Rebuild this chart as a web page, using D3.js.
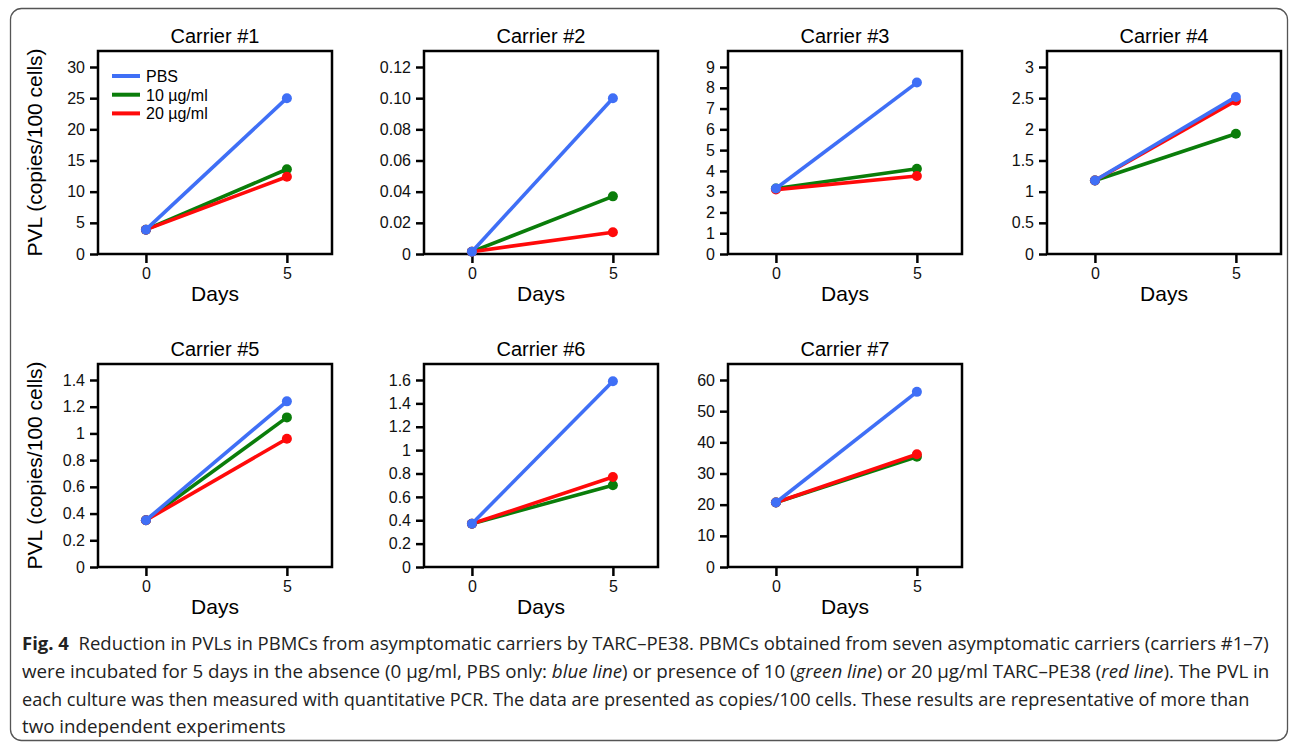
<!DOCTYPE html>
<html>
<head>
<meta charset="utf-8">
<script src="https://cdn.jsdelivr.net/npm/d3@7"></script>
<style>
  body { margin: 0; background: #fff; }
  svg { display: block; }
</style>
</head>
<body>
<svg id="chart" width="1292" height="744"></svg>
<script>
// values (copies/100 cells at day 0 and day 5)
const days = [0, 5]
const carriers = ['Carrier #1', 'Carrier #2', 'Carrier #3', 'Carrier #4', 'Carrier #5', 'Carrier #6', 'Carrier #7']
const seriesNames = ['PBS', '10 µg/ml', '20 µg/ml']
const pbs = [[3.9, 25.0], [0.0015, 0.100], [3.15, 8.25], [1.18, 2.52], [0.35, 1.24], [0.37, 1.59], [20.7, 56.2]]
const ug10 = [[3.9, 13.6], [0.0015, 0.037], [3.15, 4.1], [1.18, 1.93], [0.35, 1.12], [0.37, 0.70], [20.7, 35.4]]
const ug20 = [[3.9, 12.4], [0.0015, 0.014], [3.1, 3.75], [1.18, 2.46], [0.35, 0.96], [0.37, 0.77], [20.7, 36.2]]
const yTickStep = [5, 0.02, 1, 0.5, 0.2, 0.2, 10]
const yTickMax = [30, 0.12, 9, 3, 1.4, 1.6, 60]
const yTickDecimals = [0, 2, 0, 1, 1, 1, 0]
const xTicks = [0, 5]

const colors = ['#3f6ff6', '#0a7d0a', '#ff0a0a']
const series = [pbs, ug10, ug20]

let svg = d3.select('#chart')
const font = "'Liberation Sans', Arial, sans-serif"

// outer frame
svg.append('rect')
  .attr('x', 10.5).attr('y', 8.5)
  .attr('width', 1277).attr('height', 732)
  .attr('rx', 11)
  .attr('fill', 'none')
  .attr('stroke', '#555')
  .attr('stroke-width', 1.3)

const colLeft = [98, 424, 728, 1047]
const rowTop = [51, 364]
const boxW = 234
const boxH = 203

carriers.forEach(function (name, i) {
  let left = colLeft[i % 4]
  let top = rowTop[Math.floor(i / 4)]
  let g = svg.append('g').attr('transform', 'translate(' + left + ',' + top + ')')

  let x = d3.scaleLinear().domain([-1.7, 6.6]).range([0, boxW])
  // top tick sits ~16px below the box top
  let y = d3.scaleLinear().domain([0, yTickMax[i] * boxH / 187]).range([boxH, 0])

  let yVals = d3.range(0, yTickMax[i] + yTickStep[i] / 2, yTickStep[i])
  let fmt = function (v) {
    if (Math.abs(v) < 1e-9) return '0'
    return yTickDecimals[i] === 2 ? v.toFixed(2) : String(+v.toFixed(yTickDecimals[i]))
  }

  let yAxis = g.append('g')
    .call(d3.axisLeft(y).tickValues(yVals).tickFormat(fmt).tickSize(8).tickPadding(5))
  let xAxis = g.append('g')
    .attr('transform', 'translate(0,' + boxH + ')')
    .call(d3.axisBottom(x).tickValues(xTicks).tickFormat(d3.format('d')).tickSize(9).tickPadding(5))

  ;[yAxis, xAxis].forEach(function (a) {
    a.select('.domain').remove()
    a.selectAll('line').attr('stroke', '#000').attr('stroke-width', 2.5)
    a.selectAll('text').attr('font-family', font).attr('font-size', 16).attr('fill', '#111')
  })

  g.append('rect')
    .attr('width', boxW).attr('height', boxH)
    .attr('fill', 'none')
    .attr('stroke', '#000')
    .attr('stroke-width', 2.5)

  g.append('text')
    .attr('x', boxW / 2).attr('y', -8)
    .attr('text-anchor', 'middle')
    .attr('font-family', font).attr('font-size', 20)
    .text(name)

  g.append('text')
    .attr('x', boxW / 2).attr('y', boxH + 47)
    .attr('text-anchor', 'middle')
    .attr('font-family', font).attr('font-size', 21)
    .text('Days')

  if (i % 4 === 0) {
    g.append('text')
      .attr('transform', 'translate(' + (35 - left + 7) + ',' + boxH / 2 + ') rotate(-90)')
      .attr('text-anchor', 'middle')
      .attr('font-family', font).attr('font-size', 21)
      .text('PVL (copies/100 cells)')
  }

  let line = d3.line()
    .x(function (d, k) { return x(days[k]) })
    .y(function (d) { return y(d) })

  // drawn green, red, then blue on top
  ;[1, 2, 0].forEach(function (s) {
    let vals = series[s][i]
    g.append('path')
      .attr('d', line(vals))
      .attr('fill', 'none')
      .attr('stroke', colors[s])
      .attr('stroke-width', 3.6)
    g.selectAll(null)
      .data(vals)
      .enter()
      .append('circle')
      .attr('cx', function (d, k) { return x(days[k]) })
      .attr('cy', function (d) { return y(d) })
      .attr('r', 5)
      .attr('fill', colors[s])
  })

  if (i === 0) {
    seriesNames.forEach(function (lab, s) {
      let ly = 25 + s * 18.7
      g.append('line')
        .attr('x1', 14).attr('x2', 42)
        .attr('y1', ly).attr('y2', ly)
        .attr('stroke', colors[s]).attr('stroke-width', 4)
      g.append('text')
        .attr('x', 48).attr('y', ly + 6)
        .attr('font-family', font).attr('font-size', 16)
        .text(lab)
    })
  }
})

// caption
const captionLines = [
  [['Fig. 4', 'b'], ['  Reduction in PVLs in PBMCs from asymptomatic carriers by TARC–PE38. PBMCs obtained from seven asymptomatic carriers (carriers #1–7)', 'n']],
  [['were incubated for 5 days in the absence (0 μg/ml, PBS only: ', 'n'], ['blue line', 'i'], [') or presence of 10 (', 'n'], ['green line', 'i'], [') or 20 μg/ml TARC–PE38 (', 'n'], ['red line', 'i'], ['). The PVL in', 'n']],
  [['each culture was then measured with quantitative PCR. The data are presented as copies/100 cells. These results are representative of more than', 'n']],
  [['two independent experiments', 'n']]
]
const captionEnds = [1270, 1271, 1250, 286]
const captionY = [650, 678, 706, 733]

captionLines.forEach(function (parts, li) {
  let t = svg.append('text')
    .attr('font-family', "'Open Sans', 'Noto Sans', sans-serif")
    .attr('font-size', 17.5)
    .attr('fill', '#222')
    .attr('xml:space', 'preserve')
    .style('white-space', 'pre')
  parts.forEach(function (p) {
    t.append('tspan')
      .attr('font-weight', p[1] === 'b' ? 'bold' : null)
      .attr('font-style', p[1] === 'i' ? 'italic' : null)
      .text(p[0])
  })
  let w = t.node().getComputedTextLength()
  let sx = (captionEnds[li] - 22) / w
  t.attr('transform', 'translate(22,' + captionY[li] + ') scale(' + sx + ',1)')
})
</script>
</body>
</html>
